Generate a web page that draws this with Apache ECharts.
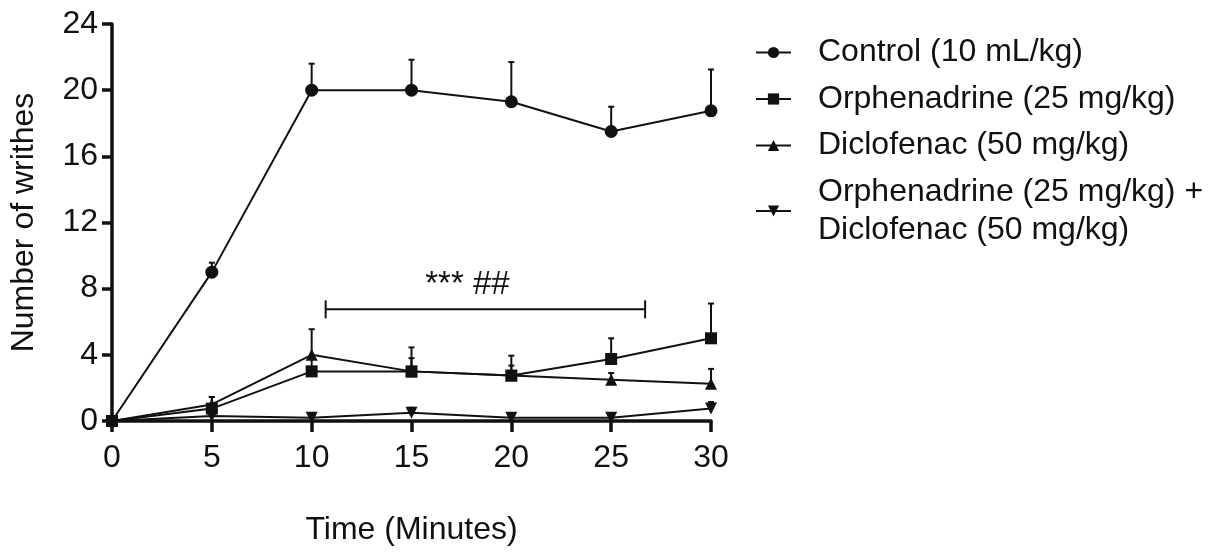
<!DOCTYPE html>
<html>
<head>
<meta charset="utf-8">
<script src="https://cdn.jsdelivr.net/npm/echarts@6/dist/echarts.min.js"></script>
<style>html,body{margin:0;padding:0;background:#fff;}#c{width:1217px;height:552px;}</style>
</head>
<body>
<div id="c"></div>
<script>
const timePoints = [0, 5, 10, 15, 20, 25, 30];
const seriesNames = [
  'Control (10 mL/kg)',
  'Orphenadrine (25 mg/kg)',
  'Diclofenac (50 mg/kg)',
  'Orphenadrine (25 mg/kg) +\nDiclofenac (50 mg/kg)'
];
const controlMean = [0, 9, 20, 20, 19.3, 17.5, 18.75];
const controlErr  = [0, 0.57, 1.6, 1.84, 2.4, 1.5, 2.5];
const orphMean    = [0, 0.75, 3, 3, 2.75, 3.75, 5];
const orphErr     = [0, 0.7, 0.8, 1.45, 1.2, 1.25, 2.1];
const dicloMean   = [0, 1.0, 4.0, 3.0, 2.75, 2.5, 2.25];
const dicloErr    = [0, 0.45, 1.55, 0.8, 0.6, 0.4, 0.9];
const comboMean   = [0, 0.3, 0.2, 0.5, 0.2, 0.2, 0.75];
const comboErr    = [0, 0.2, 0.2, 0.3, 0.2, 0.2, 0.4];
const yTicks = [0, 4, 8, 12, 16, 20, 24];
const bracketX = [10.7, 26.7];
const bracketY = 6.75;
const bracketText = '*** ##';
const bracketTextPos = [17.8, 8.3];

const FONT = '"Liberation Sans", Arial, sans-serif';
const means = [controlMean, orphMean, dicloMean, comboMean];
const errs = [controlErr, orphErr, dicloErr, comboErr];
const symbols = ['circle', 'rect', 'triangle', 'triangle'];
const rotates = [0, 0, 0, 180];

const pair = arr => timePoints.map((t, i) => [t, arr[i]]);

const lineSeries = means.map((m, k) => ({
  name: seriesNames[k],
  type: 'line',
  data: pair(m),
  symbol: symbols[k],
  symbolRotate: rotates[k],
  symbolSize: k === 0 ? 13 : 12,
  showAllSymbol: true,
  lineStyle: { color: '#111', width: 2 },
  itemStyle: { color: '#111' },
  z: 5
}));

const errSeries = means.map((m, k) => ({
  name: 'err' + k,
  type: 'custom',
  data: timePoints.map((t, i) => [t, m[i], m[i] + errs[k][i]]),
  z: 4,
  renderItem: (params, api) => {
    const lo = api.coord([api.value(0), api.value(1)]);
    const hi = api.coord([api.value(0), api.value(2)]);
    if (Math.abs(lo[1] - hi[1]) < 0.5) return null;
    return {
      type: 'group',
      children: [
        { type: 'line', shape: { x1: lo[0], y1: lo[1], x2: hi[0], y2: hi[1] }, style: { stroke: '#111', lineWidth: 2 } },
        { type: 'line', shape: { x1: hi[0] - 3, y1: hi[1], x2: hi[0] + 3, y2: hi[1] }, style: { stroke: '#111', lineWidth: 2 } }
      ]
    };
  }
}));

const bracketSeries = {
  name: 'bracket',
  type: 'custom',
  data: [[bracketX[0], bracketX[1], bracketY, bracketTextPos[0], bracketTextPos[1]]],
  z: 6,
  renderItem: (params, api) => {
    const a = api.coord([api.value(0), api.value(2)]);
    const b = api.coord([api.value(1), api.value(2)]);
    const t = api.coord([api.value(3), api.value(4)]);
    const st = { stroke: '#111', lineWidth: 2 };
    return {
      type: 'group',
      children: [
        { type: 'line', shape: { x1: a[0], y1: a[1], x2: b[0], y2: b[1] }, style: st },
        { type: 'line', shape: { x1: a[0], y1: a[1] - 9, x2: a[0], y2: a[1] + 9 }, style: st },
        { type: 'line', shape: { x1: b[0], y1: b[1] - 9, x2: b[0], y2: b[1] + 9 }, style: st },
        { type: 'text', style: { x: t[0], y: t[1] + 1, text: bracketText, fill: '#111', font: '33px ' + FONT, textAlign: 'center', textVerticalAlign: 'middle' } }
      ]
    };
  }
};

const chart = echarts.init(document.getElementById('c'));
chart.setOption({
  animation: false,
  backgroundColor: '#fff',
  textStyle: { fontFamily: FONT },
  grid: { left: 112, right: 506, top: 24, bottom: 131, containLabel: false },
  legend: {
    data: seriesNames,
    orient: 'vertical',
    left: 750,
    top: 28.5,
    itemWidth: 35,
    itemHeight: 14,
    itemGap: 8.5,
    textStyle: { fontSize: 32, color: '#111', fontFamily: FONT, lineHeight: 38, padding: [0, 0, 0, 22] },
    selectedMode: false
  },
  xAxis: {
    type: 'value',
    min: 0, max: 30, interval: 5,
    name: 'Time (Minutes)',
    nameLocation: 'middle',
    nameGap: 93,
    nameTextStyle: { fontSize: 32, color: '#111', fontFamily: FONT },
    axisLine: { show: true, onZero: false, lineStyle: { color: '#111', width: 3.5 } },
    axisTick: { show: true, length: 11, lineStyle: { color: '#111', width: 3.5 } },
    axisLabel: { fontSize: 32, color: '#111', margin: 21, fontFamily: FONT },
    splitLine: { show: false }
  },
  yAxis: {
    type: 'value',
    min: 0, max: 24, interval: 4,
    name: 'Number of writhes',
    nameLocation: 'middle',
    nameGap: 72,
    nameTextStyle: { fontSize: 32, color: '#111', fontFamily: FONT },
    axisLine: { show: true, onZero: false, lineStyle: { color: '#111', width: 3.5 } },
    axisTick: { show: true, length: 10, lineStyle: { color: '#111', width: 3.5 } },
    axisLabel: { fontSize: 32, color: '#111', margin: 14, fontFamily: FONT,
      formatter: v => yTicks.includes(v) ? String(v) : '' },
    splitLine: { show: false }
  },
  series: [...errSeries, ...lineSeries, bracketSeries]
});
</script>
</body>
</html>
